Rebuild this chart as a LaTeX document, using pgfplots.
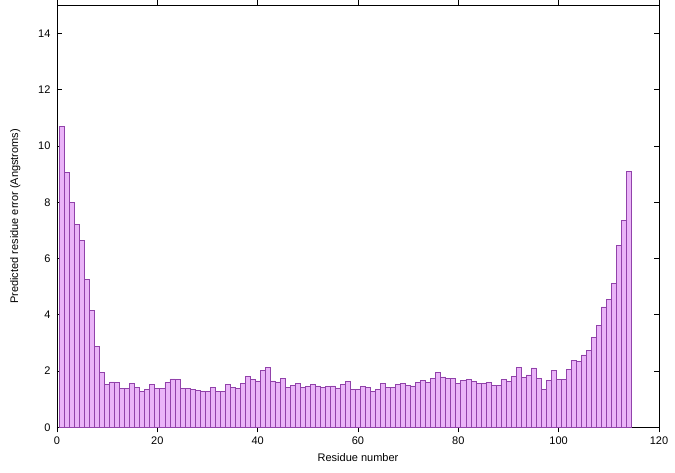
\documentclass[border=0pt]{standalone}
\usepackage{pgfplots}
\pgfplotsset{compat=1.18}
\usepackage{pgfplotstable}
\usepackage{fontspec}
\setmainfont{Liberation Sans}
\definecolor{barfill}{RGB}{234,180,248}
\definecolor{baredge}{RGB}{145,66,170}
\pgfplotstableread{
x y
1 10.68
2 9.06
3 8.00
4 7.21
5 6.63
6 5.26
7 4.15
8 2.88
9 1.96
10 1.52
11 1.61
12 1.60
13 1.38
14 1.38
15 1.55
16 1.42
17 1.28
18 1.35
19 1.52
20 1.38
21 1.38
22 1.60
23 1.72
24 1.71
25 1.38
26 1.38
27 1.34
28 1.32
29 1.26
30 1.26
31 1.41
32 1.27
33 1.27
34 1.52
35 1.42
36 1.37
37 1.55
38 1.81
39 1.71
40 1.65
41 2.02
42 2.14
43 1.65
44 1.61
45 1.73
46 1.43
47 1.48
48 1.55
49 1.41
50 1.46
51 1.52
52 1.47
53 1.43
54 1.46
55 1.47
56 1.40
57 1.52
58 1.62
59 1.35
60 1.34
61 1.45
62 1.41
63 1.26
64 1.34
65 1.55
66 1.43
67 1.43
68 1.52
69 1.55
70 1.49
71 1.47
72 1.60
73 1.67
74 1.60
75 1.75
76 1.94
77 1.79
78 1.73
79 1.75
80 1.57
81 1.66
82 1.70
83 1.62
84 1.57
85 1.56
86 1.60
87 1.49
88 1.50
89 1.69
90 1.64
91 1.82
92 2.14
93 1.77
94 1.86
95 2.11
96 1.73
97 1.34
98 1.68
99 2.03
100 1.70
101 1.70
102 2.07
103 2.37
104 2.34
105 2.57
106 2.73
107 3.19
108 3.62
109 4.28
110 4.56
111 5.11
112 6.47
113 7.35
114 9.08
}\datatable
\begin{document}
\begin{tikzpicture}
\begin{axis}[
  name=main,
  scale only axis,
  width=602pt, height=422pt,
  xmin=0, xmax=120, ymin=0, ymax=15,
  xtick={0,20,...,120}, ytick={0,2,...,14},
  tick align=inside,
  major tick length=5pt,
  axis line style={black, line width=0.6pt},
  tick style={black, line width=0.6pt},
  /pgf/number format/assume math mode=true,
  tick label style={font=\fontsize{11}{13}\selectfont},
  label style={font=\fontsize{11}{13}\selectfont},
  xlabel={Residue number},
  ylabel={Predicted residue error (Angstroms)},
  xlabel style={yshift=-2pt},
  ylabel style={yshift=11pt},
  xticklabel style={yshift=-1pt},
  yticklabel style={xshift=-3pt},
  ybar, bar width=1,
  clip=true,
]
\addplot[fill=barfill, draw=baredge, line width=0.7pt] table[x=x,y=y] {\datatable};
\end{axis}
\path[use as bounding box] (main.south west) ++(-57pt,-45pt) rectangle ++(675pt,472pt);
\end{tikzpicture}
\end{document}
